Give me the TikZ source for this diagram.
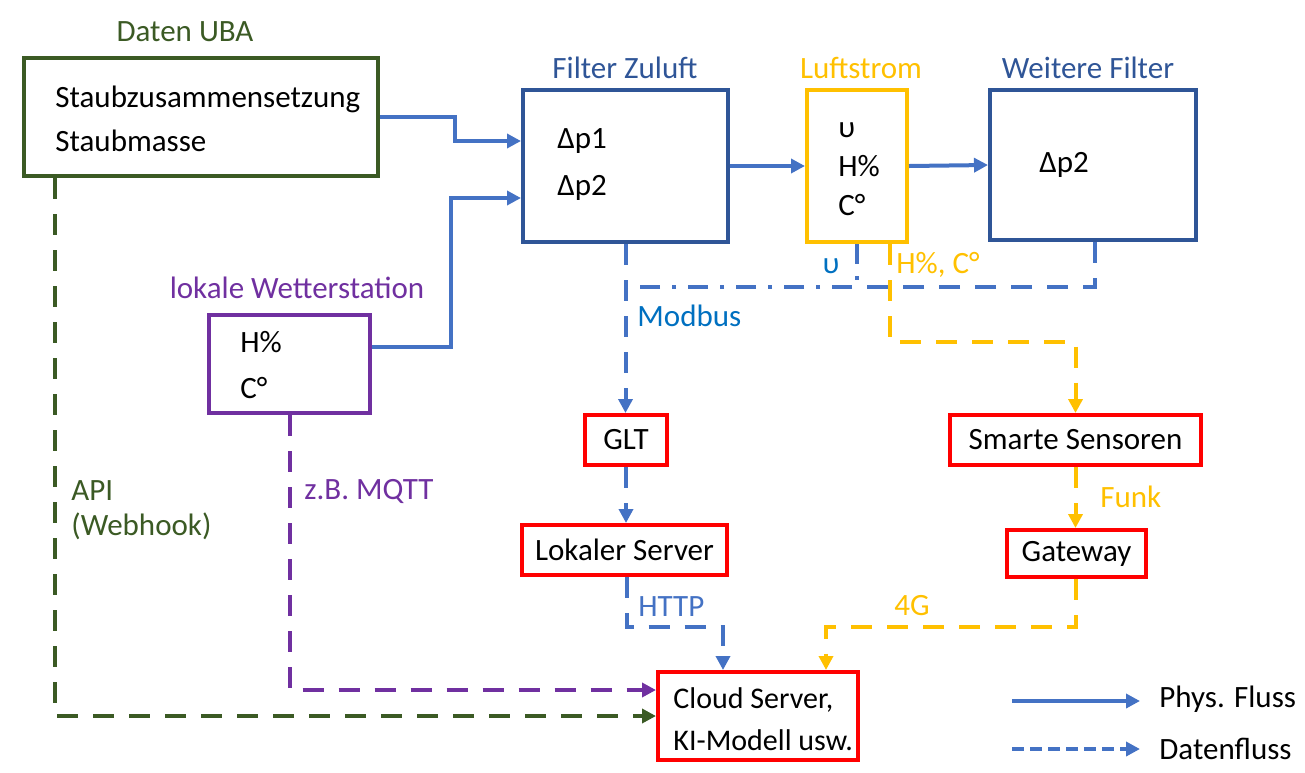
\documentclass[tikz,border=0pt]{standalone}
\usepackage{fontspec}
\setmainfont{Carlito}
\usetikzlibrary{arrows.meta,calc}
\definecolor{cgreen}{HTML}{3B5A24}
\definecolor{cboxblue}{HTML}{2F5597}
\definecolor{cblue}{HTML}{4472C4}
\definecolor{clabblue}{HTML}{0070C0}
\definecolor{cyellow}{HTML}{FFC000}
\definecolor{cpurple}{HTML}{7030A0}
\definecolor{cred}{HTML}{FF0000}
\begin{document}
\begin{tikzpicture}[x=0.5pt,y=-0.5pt,
  font=\fontsize{15.5}{22}\selectfont,
  box/.style={draw, line width=2pt, inner sep=0pt},
  redbox/.style={box, draw=cred, minimum height=25pt},
  lbl/.style={inner sep=0pt},
  intext/.style={inner sep=0pt, anchor=west, align=left},
  tip/.style={-{Triangle[length=7pt,width=7pt]}},
  dsh/.style={dash pattern=on 10.5pt off 7.5pt},
  phys/.style={draw=cblue, line width=2pt, tip},
  bdata/.style={phys, dsh},
  ydata/.style={draw=cyellow, line width=2pt, tip, dsh},
  pdata/.style={draw=cpurple, line width=2pt, tip, dsh},
  gdata/.style={draw=cgreen, line width=2pt, tip, dsh},
  bdashdot/.style={draw=cblue, line width=2pt, dash pattern=on 10pt off 6pt on 2pt off 6pt},
  bdashed/.style={draw=cblue, line width=2pt, dsh}
]
\useasboundingbox (0,0) rectangle (1305,772);

% boxes
\node[box, draw=cgreen, minimum width=177pt, minimum height=59pt] (uba) at (201,117) {};
\node[intext] (tuba1) at (55,119) {Staubzusammensetzung\\Staubmasse};
\node[box, draw=cboxblue, minimum width=102.5pt, minimum height=76pt] (filt) at (625.5,166) {};
\node[intext, font=\fontsize{15.5}{23.5}\selectfont] (tfilt1) at (557,165) {Δp1\\Δp2};
\node[box, draw=cyellow, minimum width=50pt, minimum height=76pt] (luft) at (857,166) {};
\node[intext, font=\fontsize{15.5}{19.5}\selectfont] (tluft1) at (838,169) {υ\\H\%\\C°};
\node[box, draw=cboxblue, minimum width=103pt, minimum height=75pt] (wf) at (1093,165) {};
\node[intext] (twf1) at (1039,165) {Δp2};
\node[box, draw=cpurple, minimum width=80.5pt, minimum height=49pt] (wet) at (289.5,364) {};
\node[intext, font=\fontsize{15.5}{23}\selectfont] (twet1) at (240,365) {H\%\\C°};
\node[redbox, minimum width=41pt] (glt) at (626,440) {GLT};
\node[redbox, minimum width=125.5pt] (ss) at (1075.5,440) {Smarte Sensoren};
\node[redbox, minimum width=102.5pt] (ls) at (624.5,550) {Lokaler Server};
\node[redbox, minimum width=69.5pt, minimum height=23.5pt] (gw) at (1076.5,553.5) {Gateway};
\node[box, draw=cred, minimum width=100pt, minimum height=44pt] (cloud) at (758,716) {};
\node[intext, font=\fontsize{15}{21}\selectfont] (tcloud1) at (673,719) {Cloud Server,\\KI-Modell usw.};

% titles
\node[lbl, text=cgreen] (tuba) at (185,32) {Daten UBA};
\node[lbl, text=cboxblue] (tfilt) at (625,68) {Filter Zuluft};
\node[lbl, text=cyellow] (tluft) at (861,68) {Luftstrom};
\node[lbl, text=cboxblue] (twf) at (1088,68) {Weitere Filter};
\node[lbl, text=cpurple] (twet) at (297,288) {lokale Wetterstation};

% physical flow
\draw[phys] (uba.east) -- ++(75,0) |- ($(filt.west)+(0,-25)$);
\draw[phys] ($(wet.east)+(0,-17)$) -- ++(79,0) |- ($(filt.west)+(0,32)$);
\draw[phys] (filt.east) -- (luft.west);
\draw[phys] (luft.east) -- (wf.west);

% data flow blue
\draw[bdata] (filt.south) -- (filt.south |- glt.north);
\draw[bdashdot] (luft.south) -- ++(0,43) -- ($(filt.south)+(0,43)$);
\draw[bdashed] ($(wf.south)+(2,0)$) -- ++(0,45) -- ($(luft.south)+(0,43)$);
\draw[bdata] (glt.south) -- (glt.south |- ls.north);
\draw[bdata] ($(ls.south)+(2,0)$) -- ++(0,50) -| ($(cloud.north)+(-35,0)$);

% data flow yellow
\draw[ydata] ($(luft.south)+(33,0)$) -- ++(0,98) -| (ss.north);
\draw[ydata] (ss.south) -- (ss.south |- gw.north);
\draw[ydata] (ss.south |- gw.south) -- ++(0,48) -| ($(cloud.north)+(68,0)$);

% purple and green
\draw[pdata] (wet.south) |- ($(cloud.west)+(0,-26)$);
\draw[gdata] ($(uba.south west)+(33,0)$) |- (cloud.west);

% connector labels
\node[lbl, anchor=west, text=clabblue] (lmod) at (637,316) {Modbus};
\node[lbl, text=clabblue] (lups) at (831,266) {υ};
\node[lbl, anchor=west, text=cyellow] (lhc) at (896,265) {H\%, C°};
\node[lbl, anchor=west, text=cpurple] (lmqtt) at (304,491) {z.B. MQTT};
\node[lbl, anchor=west, text=cgreen, align=left, font=\fontsize{15.5}{17.5}\selectfont] (lapi) at (71,510) {API\\(Webhook)};
\node[lbl, anchor=west, text=cblue] (lhttp) at (638,607) {HTTP};
\node[lbl, text=cyellow] (l4g) at (912,606) {4G};
\node[lbl, anchor=west, text=cyellow] (lfunk) at (1100,497) {Funk};

% legend
\coordinate (la) at (1012,701);
\coordinate (lb) at (1140,701);
\coordinate (lc) at (1012,749);
\coordinate (ld) at (1140,749);
\draw[phys] (la) -- (lb);
\draw[phys, dash pattern=on 6pt off 3pt] (lc) -- (ld);
\node[lbl, anchor=west] (lphys) at (1159,699) {Phys. Fluss};
\node[lbl, anchor=west] (ldat) at (1159,749) {Datenfluss};
\end{tikzpicture}
\end{document}
